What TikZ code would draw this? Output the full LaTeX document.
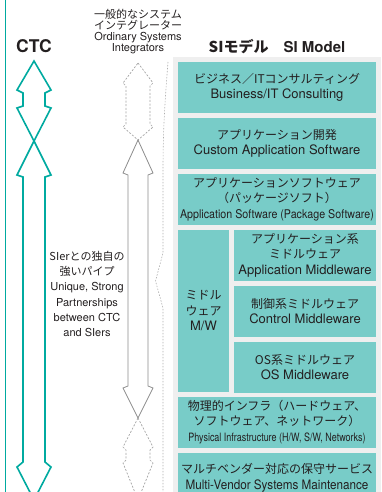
\documentclass[tikz,border=0pt]{standalone}
\usepackage{fontspec}
\setmainfont{TeX Gyre Heros}
\newfontfamily\jp{Noto Sans CJK JP}
\usetikzlibrary{positioning}

\definecolor{ctcteal}{RGB}{0,170,160}
\definecolor{boxteal}{RGB}{120,204,200}
\definecolor{panelgray}{RGB}{239,239,239}
\definecolor{txt}{RGB}{35,31,32}
\definecolor{sigray}{RGB}{140,140,140}

\newcommand{\narrow}[2]{\scalebox{#1}[1]{#2}}
\newcommand{\jpline}{\jp\fontsize{12}{15.5}\selectfont}

\tikzset{
  layer/.style={fill=boxteal, text=txt, inner sep=0pt, minimum width=198pt,
    minimum height=51pt, align=center, font=\fontsize{13}{15.5}\selectfont},
  sublayer/.style={layer, minimum width=142pt},
  ctcarrow/.style={draw=ctcteal, line width=1.6pt, line join=miter},
  siarrow/.style={draw=sigray, line width=0.8pt},
  sidashed/.style={draw=sigray!80, line width=0.7pt, dash pattern=on 2pt off 1.6pt},
  label/.style={text=txt, align=center}
}

\begin{document}
\begin{tikzpicture}[x=1pt,y=-1pt]
	\useasboundingbox (0,0) rectangle (381,492);

	% left rule and gray panel
	\draw[ctcteal, line width=1pt] (5.5,0) -- (5.5,492);
	\fill[panelgray] (173,57) rectangle (381,495);

	% SI model stack
	\node[layer] (consult) at (277,87.5) {{\jpline ビジネス／ITコンサルティング}\\Business/IT Consulting};
	\node[layer] (custom) [below=4.5pt of consult] {{\jpline アプリケーション開発}\\Custom Application Software};
	\node[layer] (package) [below=4.5pt of custom] {{\jpline アプリケーションソフトウェア}\\{\jpline （パッケージソフト）}\\{\fontsize{12}{15.5}\selectfont\narrow{0.89}{Application Software (Package Software)}}};
	\node[layer, minimum width=51pt, minimum height=162pt] (mw) [below right=4.5pt and 0pt of package.south west] {{\jp\fontsize{12}{14}\selectfont ミドル}\\{\jp\fontsize{12}{14}\selectfont ウェア}\\M/W};
	\node[sublayer] (appmw) [below left=4.5pt and 0pt of package.south east] {{\jp\fontsize{12}{14.5}\selectfont アプリケーション系}\\{\jp\fontsize{12}{14.5}\selectfont ミドルウェア}\\Application Middleware};
	\node[sublayer] (ctrlmw) [below=4.5pt of appmw] {{\jpline 制御系ミドルウェア}\\Control Middleware};
	\node[sublayer] (osmw) [below=4.5pt of ctrlmw] {{\jpline OS系ミドルウェア}\\OS Middleware};
	\node[layer] (infra) [below right=4.5pt and 0pt of mw.south west] {{\jpline 物理的インフラ（ハードウェア、}\\{\jpline ソフトウェア、ネットワーク）}\\{\fontsize{11.5}{15.5}\selectfont\narrow{0.78}{Physical Infrastructure (H/W, S/W, Networks)}}};
	\node[layer] (maint) [below=4.5pt of infra] {{\jpline マルチベンダー対応の保守サービス}\\\narrow{0.9}{Multi-Vendor Systems Maintenance}};

	% headings
	\node[label, font=\bfseries\fontsize{17.5}{20}\selectfont] (ctc) at (34,46) {CTC};
	\node[label, font=\bfseries\fontsize{15}{18}\selectfont] (simodel) at (277,47) {{\jp\bfseries SIモデル}\hspace{1em}SI Model};
	\node[label, font=\fontsize{11}{11}\selectfont] (ordinary) at (138,31.5) {{\jp 一般的なシステム}\\{\jp インテグレーター}\\Ordinary Systems\\Integrators};
	\node[label, font=\fontsize{11}{15.3}\selectfont] (pipe) at (87,294) {{\jp SIerとの独自の}\\{\jp 強いパイプ}\\Unique, Strong\\Partnerships\\between CTC\\and SIers};

	% CTC arrows
	\draw[ctcarrow] (34,61) -- (51,90) -- (45,93) -- (45,106) -- (51,108) -- (34,141)
		-- (17,108) -- (23,106) -- (23,93) -- (17,90) -- cycle;
	\draw[ctcarrow] (34,141) -- (51,175) -- (45,177) -- (45,462) -- (51,467) -- (34,500)
		-- (17,467) -- (23,462) -- (23,177) -- (17,175) -- cycle;

	% ordinary SIer arrows
	\draw[sidashed] (138,63) -- (153,83) -- (150,86) -- (150,124) -- (153,127) -- (138,140)
		-- (123,127) -- (126,124) -- (126,86) -- (123,83) -- cycle;
	\draw[siarrow] (138,140) -- (153,173) -- (148,175) -- (148,386) -- (153,388) -- (138,418)
		-- (123,388) -- (128,386) -- (128,175) -- (123,173) -- cycle;
	\draw[sidashed] (138,418) -- (153,447) -- (150,450) -- (150,460) -- (153,463) -- (138,500)
		-- (123,463) -- (126,460) -- (126,450) -- (123,447) -- cycle;

	% boundary
	\draw[sigray!70, line width=0.6pt, dash pattern=on 1.5pt off 1.5pt]
		(168,62) .. controls (165,100) and (163,130) .. (163,170) -- (163,253)
		-- (155.5,281) -- (163,308) -- (163,495);
\end{tikzpicture}
\end{document}
